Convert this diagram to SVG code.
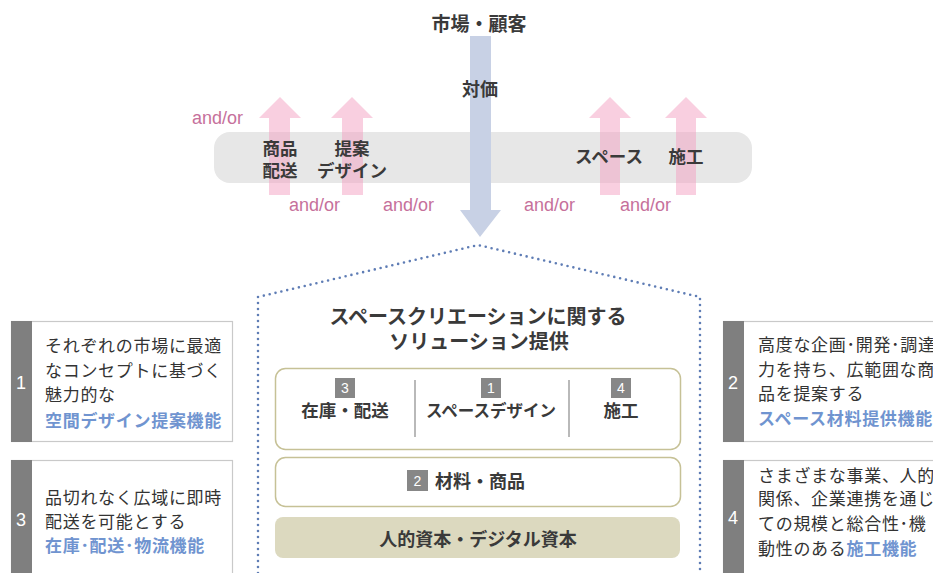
<svg xmlns="http://www.w3.org/2000/svg" width="933" height="573" viewBox="0 0 933 573">
<defs>
<style>
.jp{font-family:"Noto Sans CJK JP","Liberation Sans",sans-serif;fill:#3a3a3a}
.b{font-weight:700}
.ao{font-family:"Liberation Sans",Arial,sans-serif;font-size:18px;fill:#c6709b}
.pink{fill:#f39fc1;opacity:0.5}
.card{fill:#fff;stroke:#c9c9c9;stroke-width:1.2}
.band{fill:#7f7f7f}
.num{font-family:"Liberation Sans",Arial,sans-serif;font-size:18px;fill:#fff}
.ct{font-family:"Noto Sans CJK JP",sans-serif;font-size:17px;fill:#333;letter-spacing:0.7px}
.blue{fill:#7094d0;font-weight:700}
.box{fill:#fff;stroke:#c6c196;stroke-width:1.5}
.badge{fill:#878787}
.bn{font-family:"Liberation Sans",Arial,sans-serif;font-size:14px;fill:#fff;text-anchor:middle}
.mid{text-anchor:middle}
</style>
</defs>
<rect width="933" height="573" fill="#fff"/>

<g id="market">
<text class="jp b mid" x="479" y="31" font-size="19">市場・顧客</text>
</g>

<g id="band">
<rect x="214" y="132" width="538" height="51" rx="16" fill="#e7e7e7"/>
</g>

<g id="connectors">
<path class="pink" d="M269,195 V118 H259 L280,97 L301,118 H290 V195 Z"/>
<path class="pink" d="M342,195 V118 H331 L352,97 L373,118 H363 V195 Z"/>
<path class="pink" d="M600,195 V118 H589 L610,97 L631,118 H620 V195 Z"/>
<path class="pink" d="M676,195 V118 H665 L686,97 L707,118 H696 V195 Z"/>
<path d="M470,36 H491 V210 H501 L480,237 L460,210 H470 Z" fill="#c8d1e5"/>
</g>

<g id="labels-top">
<text class="jp b mid" x="480" y="96" font-size="18">対価</text>
<text class="jp b mid" x="280" y="155" font-size="17.5">商品</text>
<text class="jp b mid" x="280" y="177" font-size="17.5">配送</text>
<text class="jp b mid" x="352" y="155" font-size="17.5">提案</text>
<text class="jp b mid" x="352" y="177" font-size="17.5">デザイン</text>
<text class="jp b mid" x="609" y="163" font-size="17.5">スペース</text>
<text class="jp b mid" x="686" y="163" font-size="17.5">施工</text>
<text class="ao" x="192" y="124">and/or</text>
<text class="ao" x="289" y="211">and/or</text>
<text class="ao" x="383" y="211">and/or</text>
<text class="ao" x="524" y="211">and/or</text>
<text class="ao" x="620" y="211">and/or</text>
</g>

<g id="house">
<path d="M258,573 V297 L478,245 L700,297 V573" fill="none" stroke="#5f7db5" stroke-width="2.6" stroke-dasharray="0 6" stroke-linecap="round"/>
<text class="jp b mid" x="478" y="324" font-size="20">スペースクリエーションに関する</text>
<text class="jp b mid" x="479" y="349" font-size="20">ソリューション提供</text>
</g>

<g id="box-functions">
<rect class="box" x="275.5" y="368.5" width="405" height="81" rx="10"/>
<line x1="415" y1="380" x2="415" y2="437" stroke="#8a8a8a" stroke-width="1.2"/>
<line x1="569" y1="380" x2="569" y2="437" stroke="#8a8a8a" stroke-width="1.2"/>
<rect class="badge" x="335" y="378" width="20" height="20"/>
<text class="bn" x="345" y="393">3</text>
<text class="jp b mid" x="345" y="417" font-size="17.5">在庫・配送</text>
<rect class="badge" x="481" y="378" width="20" height="20"/>
<text class="bn" x="491" y="393">1</text>
<text class="jp b mid" x="491" y="417" font-size="16.5">スペースデザイン</text>
<rect class="badge" x="611" y="378" width="20" height="20"/>
<text class="bn" x="621" y="393">4</text>
<text class="jp b mid" x="621" y="417" font-size="17.5">施工</text>
</g>

<g id="box-material">
<rect class="box" x="275.5" y="457.5" width="405" height="49" rx="10"/>
<rect class="badge" x="407" y="470" width="21" height="21"/>
<text class="bn" x="417.5" y="486">2</text>
<text class="jp b" x="435" y="488" font-size="18">材料・商品</text>
</g>

<g id="box-capital">
<rect x="275" y="517" width="405" height="41" rx="8" fill="#dcd9bf"/>
<text class="jp b mid" x="478" y="546" font-size="18">人的資本・デジタル資本</text>
</g>

<g id="card1">
<rect class="card" x="11.5" y="321.5" width="221" height="120"/>
<rect class="band" x="11" y="321" width="21" height="121"/>
<text class="num" x="16" y="389">1</text>
<text class="ct" x="45" y="352">それぞれの市場に最適</text>
<text class="ct" x="45" y="377">なコンセプトに基づく</text>
<text class="ct" x="45" y="401">魅力的な</text>
<text class="ct blue" x="45" y="427">空間デザイン提案機能</text>
</g>

<g id="card3">
<rect class="card" x="11.5" y="460.5" width="221" height="130"/>
<rect class="band" x="11" y="460" width="21" height="120"/>
<text class="num" x="16" y="526">3</text>
<text class="ct" x="45" y="504">品切れなく広域に即時</text>
<text class="ct" x="45" y="528">配送を可能とする</text>
<text class="ct blue" x="45" y="552">在庫･配送･物流機能</text>
</g>

<g id="card2">
<rect class="card" x="723.5" y="321.5" width="230" height="120"/>
<rect class="band" x="723" y="321" width="21" height="121"/>
<text class="num" x="728" y="389">2</text>
<text class="ct" x="758" y="351">高度な企画･開発･調達</text>
<text class="ct" x="758" y="376">力を持ち、広範囲な商</text>
<text class="ct" x="758" y="400">品を提案する</text>
<text class="ct blue" x="758" y="425">スペース材料提供機能</text>
</g>

<g id="card4">
<rect class="card" x="723.5" y="460.5" width="230" height="130"/>
<rect class="band" x="723" y="460" width="21" height="120"/>
<text class="num" x="728" y="524">4</text>
<text class="ct" x="758" y="482">さまざまな事業、人的</text>
<text class="ct" x="758" y="505">関係、企業連携を通じ</text>
<text class="ct" x="758" y="530">ての規模と総合性･機</text>
<text class="ct" x="758" y="555">動性のある<tspan class="blue">施工機能</tspan></text>
</g>
</svg>
